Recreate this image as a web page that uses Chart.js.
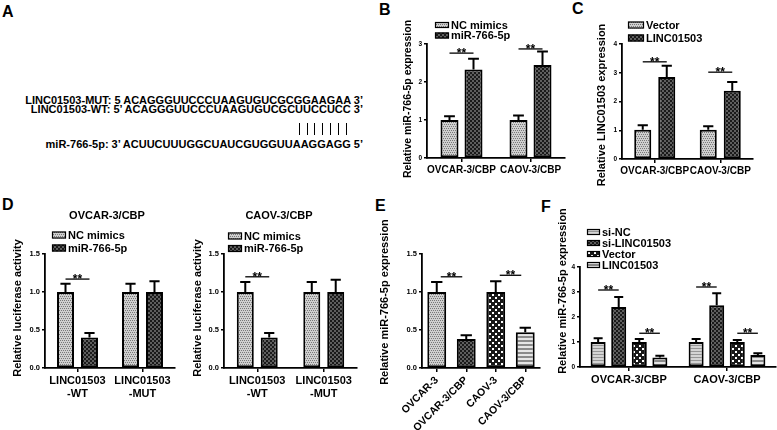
<!DOCTYPE html>
<html><head><meta charset="utf-8">
<script src="https://cdn.jsdelivr.net/npm/chart.js@4"></script>
<style>
html,body{margin:0;padding:0;background:#fff;}
#wrap{position:relative;width:777px;height:430px;overflow:hidden;font-family:'Liberation Sans',Arial,Helvetica,sans-serif;font-weight:bold;color:#000;}
canvas{position:absolute;left:0;top:0;}
.lt{position:absolute;font-size:16px;line-height:16px;}
.seq{position:absolute;right:414px;font-size:11px;line-height:11px;white-space:nowrap;text-align:right;}
.pair{position:absolute;width:1px;background:#000;top:123px;height:12px;}
</style></head><body>
<div id="wrap">
  <div class="lt" style="left:2px;top:4px;">A</div>
  <div class="lt" style="left:379px;top:2px;">B</div>
  <div class="lt" style="left:572px;top:1px;">C</div>
  <div class="lt" style="left:2px;top:197px;">D</div>
  <div class="lt" style="left:375px;top:198px;">E</div>
  <div class="lt" style="left:541px;top:199px;">F</div>
  <div class="seq" style="top:94.6px;">LINC01503-MUT: 5 ACAGGGUUCCCUAAGUGUCGCGGAAGAA 3’</div>
  <div class="seq" id="wt" style="top:103.6px;">LINC01503-WT: 5’ ACAGGGUUCCCUAAGUGUCGC<span class="p">U</span><span class="p">U</span><span class="p">C</span><span class="p">C</span><span class="p">U</span><span class="p">C</span><span class="p">C</span> 3’</div>
  <div class="seq" style="top:138.6px;">miR-766-5p: 3’ ACUUCUUUGGCUAUCGUGGUUAAGGAGG 5’</div>
</div>
<script>
// ---------------- DATA ----------------
// Panel B
const bCategories = ['OVCAR-3/CBP', 'CAOV-3/CBP'];
const bNcMimics = [1.00, 1.00];
const bNcMimicsErr = [0.10, 0.12];
const bMiR766 = [2.33, 2.45];
const bMiR766Err = [0.28, 0.35];
const bTicks = [0, 1, 2, 3];
const bTickLabels = ['0', '1', '2', '3'];
const bBrackets = [[0, 0, 1, 0, 2.76], [0, 1, 1, 1, 2.87]];

// Panel C
const cCategories = ['OVCAR-3/CBP', 'CAOV-3/CBP'];
const cVector = [1.02, 1.02];
const cVectorErr = [0.15, 0.12];
const cLinc = [2.85, 2.37];
const cLincErr = [0.39, 0.31];
const cTicks = [0, 1, 2, 3, 4];
const cTickLabels = ['0', '1', '2', '3', '4'];
const cBrackets = [[0, 0, 1, 0, 3.38], [0, 1, 1, 1, 3.02]];

// Panel D
const dCategories = [['LINC01503', '-WT'], ['LINC01503', '-MUT']];
const dTicks = [0, 0.5, 1.0, 1.5];
const dTickLabels = ['0.0', '0.5', '1.0', '1.5'];
const d1NcMimics = [1.00, 1.00];
const d1NcMimicsErr = [0.11, 0.11];
const d1MiR766 = [0.40, 1.00];
const d1MiR766Err = [0.06, 0.14];
const d1Brackets = [[0, 0, 1, 0, 1.17]];
const d2NcMimics = [1.00, 1.00];
const d2NcMimicsErr = [0.13, 0.13];
const d2MiR766 = [0.40, 1.00];
const d2MiR766Err = [0.06, 0.16];
const d2Brackets = [[0, 0, 1, 0, 1.20]];

// Panel E
const eCategories = ['OVCAR-3', 'OVCAR-3/CBP', 'CAOV-3', 'CAOV-3/CBP'];
const eValues = [1.00, 0.38, 1.00, 0.47];
const eErr = [0.13, 0.05, 0.14, 0.06];
const eTicks = [0, 0.5, 1.0, 1.5];
const eTickLabels = ['0.0', '0.5', '1.0', '1.5'];
const eBrackets = [[0, 0, 0, 1, 1.20], [0, 2, 0, 3, 1.22]];

// Panel F
const fCategories = ['OVCAR-3/CBP', 'CAOV-3/CBP'];
const fSiNC = [1.00, 1.00];
const fSiNCErr = [0.15, 0.12];
const fSiLinc = [2.40, 2.47];
const fSiLincErr = [0.40, 0.48];
const fVector = [1.00, 1.00];
const fVectorErr = [0.12, 0.08];
const fLinc = [0.38, 0.48];
const fLincErr = [0.07, 0.07];
const fTicks = [0, 1, 2, 3, 4];
const fTickLabels = ['0', '1', '2', '3', '4'];
const fBrackets = [[0, 0, 1, 0, 3.08], [2, 0, 3, 0, 1.35], [0, 1, 1, 1, 3.20], [2, 1, 3, 1, 1.35]];

// ---------------- RENDERING ----------------
const FONT = "'Liberation Sans', Arial, Helvetica, sans-serif";

function makePattern(ctx, kind) {
  const c = document.createElement('canvas');
  let n = 4;
  if (kind === 'polka') n = 6;
  if (kind === 'lightStripe') n = 3;
  c.width = n; c.height = n;
  const g = c.getContext('2d');
  if (kind === 'light') {
    g.fillStyle = '#cfcfcf'; g.fillRect(0, 0, n, n);
    g.fillStyle = '#787878';
    [[0, 0], [2, 0], [1, 2], [3, 2]].forEach(([x, y]) => g.fillRect(x, y, 1, 1));
  } else if (kind === 'dark') {
    g.fillStyle = '#1a1a1a'; g.fillRect(0, 0, n, n);
    g.fillStyle = '#5e5e5e';
    g.fillRect(0, 0, 2, 2); g.fillRect(2, 2, 2, 2);
  } else if (kind === 'polka') {
    g.fillStyle = '#181818'; g.fillRect(0, 0, n, n);
    g.fillStyle = '#ffffff';
    g.fillRect(0, 0, 2, 2); g.fillRect(3, 3, 2, 2);
  } else if (kind === 'stripes') {
    g.fillStyle = '#e6e6e6'; g.fillRect(0, 0, n, n);
    g.fillStyle = '#8a8a8a'; g.fillRect(0, 0, n, 2);
  } else if (kind === 'lightStripe') {
    g.fillStyle = '#d4d4d4'; g.fillRect(0, 0, n, n);
    g.fillStyle = '#969696'; g.fillRect(0, 0, n, 1);
  }
  return ctx.createPattern(c, 'repeat');
}

const deco = {
  id: 'deco',
  afterDatasetsDraw(chart, args, o) {
    const ctx = chart.ctx, ys = chart.scales.y;
    ctx.save();
    ctx.strokeStyle = '#000';
    ctx.lineWidth = 2;
    chart.data.datasets.forEach((ds, di) => {
      chart.getDatasetMeta(di).data.forEach((bar, i) => {
        const yTop = ys.getPixelForValue(ds.data[i] + ds.err[i]);
        const cap = bar.width * 0.6;
        ctx.beginPath();
        ctx.moveTo(bar.x, bar.y); ctx.lineTo(bar.x, yTop);
        ctx.moveTo(bar.x - cap / 2, yTop); ctx.lineTo(bar.x + cap / 2, yTop);
        ctx.stroke();
      });
    });
    (o.brackets || []).forEach(([da, ia, db, ib, lvl]) => {
      const a = chart.getDatasetMeta(da).data[ia], b = chart.getDatasetMeta(db).data[ib];
      const y = ys.getPixelForValue(lvl);
      const inset = o.inset || 0;
      const x1 = a.x + inset, x2 = b.x - inset;
      ctx.lineWidth = 1.3;
      ctx.beginPath(); ctx.moveTo(x1, y); ctx.lineTo(x2, y); ctx.stroke();
      ctx.font = `bold 12px ${FONT}`;
      ctx.textAlign = 'center'; ctx.textBaseline = 'alphabetic'; ctx.fillStyle = '#000';
      ctx.fillText('**', (x1 + x2) / 2, y + 4);
    });
    ctx.restore();
  },
  afterDraw(chart, args, o) {
    const ctx = chart.ctx;
    ctx.save();
    ctx.fillStyle = '#000';
    if (o.title) {
      ctx.font = `bold ${o.title.size}px ${FONT}`;
      ctx.textAlign = 'center'; ctx.textBaseline = 'middle';
      ctx.fillText(o.title.text, o.title.x, o.title.y);
    }
    if (o.yTitle) {
      ctx.save();
      ctx.font = `bold ${o.yTitle.size}px ${FONT}`;
      ctx.translate(o.yTitle.x, o.yTitle.y);
      ctx.rotate(-Math.PI / 2);
      ctx.textAlign = 'center'; ctx.textBaseline = 'middle';
      ctx.fillText(o.yTitle.text, 0, 0);
      ctx.restore();
    }
    if (o.legend) {
      const L = o.legend;
      chart.data.datasets.forEach((ds, i) => {
        const cy = L.y + i * L.dy;
        ctx.fillStyle = ds.backgroundColor;
        ctx.fillRect(L.x, cy - L.h / 2, L.w, L.h);
        ctx.strokeStyle = '#000'; ctx.lineWidth = 1.2;
        ctx.strokeRect(L.x + 0.5, cy - L.h / 2 + 0.5, L.w - 1, L.h - 1);
        ctx.fillStyle = '#000';
        ctx.font = `bold ${L.size}px ${FONT}`;
        ctx.textAlign = 'left'; ctx.textBaseline = 'middle';
        ctx.fillText(ds.label, L.x + L.w + 2, cy + 0.5);
      });
    }
    ctx.restore();
  }
};

function buildChart(spec) {
  const canvas = document.createElement('canvas');
  canvas.width = 777; canvas.height = 430;
  document.getElementById('wrap').appendChild(canvas);
  const ctx = canvas.getContext('2d');
  const datasets = spec.series.map(s => ({
    label: s.label, data: s.data, err: s.err,
    backgroundColor: Array.isArray(s.pattern) ? s.pattern.map(p => makePattern(ctx, p)) : makePattern(ctx, s.pattern),
    borderColor: '#000', borderWidth: 2, borderSkipped: false,
    categoryPercentage: spec.catPct, barPercentage: spec.barPct
  }));
  const g = spec.geom;
  const yW = 30;
  return new Chart(ctx, {
    type: 'bar',
    data: { labels: spec.labels, datasets },
    options: {
      responsive: false, animation: false, devicePixelRatio: 1, events: [],
      layout: { autoPadding: false, padding: { left: g.axisX - yW, top: g.top, right: 777 - g.right, bottom: 430 - g.bottom - g.xH } },
      plugins: { legend: { display: false }, tooltip: { enabled: false }, title: { display: false }, deco: spec.deco },
      scales: {
        x: {
          offset: true,
          border: { display: true, color: '#000', width: 1.8 },
          grid: { display: true, drawOnChartArea: false, drawTicks: true, tickLength: 4, offset: false, color: '#000', lineWidth: 1.5 },
          ticks: { color: '#000', autoSkip: false, padding: 2, maxRotation: spec.rot || 0, minRotation: spec.rot || 0,
                   font: { family: FONT, size: spec.xFont, weight: 'bold', lineHeight: 1.2 } },
          afterFit(s) { s.height = g.xH; }
        },
        y: {
          min: spec.ticks[0], max: spec.ticks[spec.ticks.length - 1],
          border: { display: true, color: '#000', width: 1.8 },
          grid: { display: true, drawOnChartArea: false, drawTicks: true, tickLength: 3, color: '#000', lineWidth: 1.5 },
          ticks: { color: '#000', padding: 2, font: { family: FONT, size: spec.yFont, weight: 'bold' },
                   callback: (v, i) => spec.tickLabels[i] },
          afterBuildTicks(s) { s.ticks = spec.ticks.map(v => ({ value: v })); },
          afterFit(s) { s.width = yW; }
        }
      }
    },
    plugins: [deco]
  });
}

// Panel B
buildChart({
  labels: bCategories,
  series: [
    { label: 'NC mimics', data: bNcMimics, err: bNcMimicsErr, pattern: 'light' },
    { label: 'miR-766-5p', data: bMiR766, err: bMiR766Err, pattern: 'dark' }
  ],
  geom: { axisX: 427, right: 565, top: 44, bottom: 158, xH: 30 },
  catPct: 0.696, barPct: 0.75, xFont: 10, yFont: 6.5,
  ticks: bTicks, tickLabels: bTickLabels,
  deco: {
    yTitle: { text: 'Relative miR-766-5p expression', x: 408, y: 99, size: 10.5 },
    legend: { x: 435, y: 25, dy: 10.5, w: 14, h: 6, size: 11 },
    brackets: bBrackets
  }
});

// Panel C
buildChart({
  labels: cCategories,
  series: [
    { label: 'Vector', data: cVector, err: cVectorErr, pattern: 'light' },
    { label: 'LINC01503', data: cLinc, err: cLincErr, pattern: 'dark' }
  ],
  geom: { axisX: 622, right: 753, top: 44, bottom: 159, xH: 30 },
  catPct: 0.733, barPct: 0.71, xFont: 10, yFont: 6.5,
  ticks: cTicks, tickLabels: cTickLabels,
  deco: {
    yTitle: { text: 'Relative LINC01503 expression', x: 602, y: 105, size: 11 },
    legend: { x: 628, y: 25, dy: 13, w: 16, h: 7, size: 11 },
    brackets: cBrackets
  }
});

// Panel D (left)
buildChart({
  labels: dCategories,
  series: [
    { label: 'NC mimics', data: d1NcMimics, err: d1NcMimicsErr, pattern: 'light' },
    { label: 'miR-766-5p', data: d1MiR766, err: d1MiR766Err, pattern: 'dark' }
  ],
  geom: { axisX: 45, right: 175, top: 254, bottom: 368, xH: 40 },
  catPct: 0.738, barPct: 0.708, xFont: 11, yFont: 7.5,
  ticks: dTicks, tickLabels: dTickLabels,
  deco: {
    title: { text: 'OVCAR-3/CBP', x: 107, y: 216, size: 11 },
    yTitle: { text: 'Relative luciferase activity', x: 18, y: 308, size: 11 },
    legend: { x: 52, y: 235, dy: 13, w: 14, h: 7, size: 11 },
    brackets: d1Brackets
  }
});

// Panel D (right)
buildChart({
  labels: dCategories,
  series: [
    { label: 'NC mimics', data: d2NcMimics, err: d2NcMimicsErr, pattern: 'light' },
    { label: 'miR-766-5p', data: d2MiR766, err: d2MiR766Err, pattern: 'dark' }
  ],
  geom: { axisX: 224, right: 357, top: 254, bottom: 368, xH: 40 },
  catPct: 0.72, barPct: 0.71, xFont: 11, yFont: 7.5,
  ticks: dTicks, tickLabels: dTickLabels,
  deco: {
    title: { text: 'CAOV-3/CBP', x: 279, y: 216, size: 11 },
    yTitle: { text: 'Relative luciferase activity', x: 198, y: 308, size: 11 },
    legend: { x: 228, y: 236, dy: 12.5, w: 14, h: 7, size: 11 },
    brackets: d2Brackets
  }
});

// Panel E
buildChart({
  labels: eCategories,
  series: [
    { label: '', data: eValues, err: eErr, pattern: ['light', 'dark', 'polka', 'stripes'] }
  ],
  geom: { axisX: 422, right: 540, top: 254, bottom: 368, xH: 62 },
  catPct: 0.8, barPct: 0.8, xFont: 10.5, yFont: 7.5, rot: 45,
  ticks: eTicks, tickLabels: eTickLabels,
  deco: {
    yTitle: { text: 'Relative miR-766-5p expression', x: 385, y: 302, size: 11 },
    brackets: eBrackets, inset: 4
  }
});

// Panel F
buildChart({
  labels: fCategories,
  series: [
    { label: 'si-NC', data: fSiNC, err: fSiNCErr, pattern: 'lightStripe' },
    { label: 'si-LINC01503', data: fSiLinc, err: fSiLincErr, pattern: 'dark' },
    { label: 'Vector', data: fVector, err: fVectorErr, pattern: 'polka' },
    { label: 'LINC01503', data: fLinc, err: fLincErr, pattern: 'stripes' }
  ],
  geom: { axisX: 580, right: 776, top: 267, bottom: 367, xH: 30 },
  catPct: 0.84, barPct: 0.73, xFont: 11, yFont: 6.5,
  ticks: fTicks, tickLabels: fTickLabels,
  deco: {
    yTitle: { text: 'Relative miR-766-5p expression', x: 563, y: 291, size: 11 },
    legend: { x: 587, y: 232, dy: 11, w: 13, h: 6, size: 11 },
    brackets: fBrackets
  }
});

// Panel A: base-pairing lines under paired nucleotides
(function () {
  const wrap = document.getElementById('wrap');
  const wr = wrap.getBoundingClientRect();
  document.querySelectorAll('#wt .p').forEach(sp => {
    const r = sp.getBoundingClientRect();
    const d = document.createElement('div');
    d.className = 'pair';
    d.style.left = (r.left + r.width / 2 - wr.left - 0.5) + 'px';
    wrap.appendChild(d);
  });
})();
</script>
</body></html>
